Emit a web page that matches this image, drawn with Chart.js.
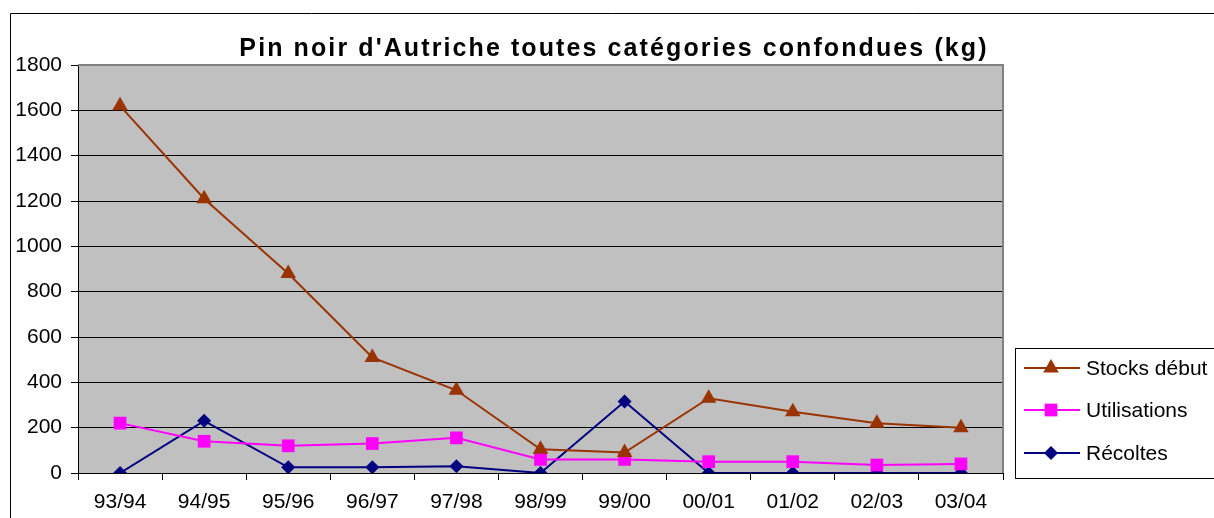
<!DOCTYPE html>
<html>
<head>
<meta charset="utf-8">
<script src="https://cdn.jsdelivr.net/npm/chart.js@4/dist/chart.umd.min.js"></script>
<style>
  html, body { margin: 0; padding: 0; background: #ffffff; }
  #wrap { width: 1214px; height: 518px; position: relative; }
</style>
</head>
<body>
<div id="wrap"><canvas id="c" width="1214" height="518"></canvas></div>
<script>
const titleText = "Pin noir d'Autriche toutes catégories confondues (kg)";
const categories = ["93/94", "94/95", "95/96", "96/97", "97/98", "98/99", "99/00", "00/01", "01/02", "02/03", "03/04"];
const stocksDebut = [1620, 1210, 880, 510, 365, 105, 90, 330, 270, 220, 200];
const utilisations = [220, 140, 120, 130, 155, 60, 60, 50, 50, 35, 40];
const recoltes = [0, 230, 25, 25, 30, 0, 315, 0, 0, 0, 0];
const yTicks = { min: 0, max: 1800, step: 200 };

const FONT = "'Liberation Sans', Arial, sans-serif";

function drawMarker(ctx, style, x, y, r, color) {
  ctx.save();
  ctx.fillStyle = color;
  ctx.beginPath();
  if (style === 'triangle') {
    ctx.moveTo(x, y - r);
    ctx.lineTo(x + r * 0.866, y + r * 0.5);
    ctx.lineTo(x - r * 0.866, y + r * 0.5);
  } else if (style === 'rect') {
    const s = r * Math.SQRT1_2;
    ctx.rect(x - s, y - s, 2 * s, 2 * s);
  } else {
    ctx.moveTo(x, y - r);
    ctx.lineTo(x + r, y);
    ctx.lineTo(x, y + r);
    ctx.lineTo(x - r, y);
  }
  ctx.closePath();
  ctx.fill();
  ctx.restore();
}

const decorPlugin = {
  id: 'decor',
  beforeDraw(chart) {
    const { ctx, chartArea: a } = chart;
    ctx.save();
    ctx.fillStyle = '#ffffff';
    ctx.fillRect(0, 0, chart.width, chart.height);
    ctx.fillStyle = '#c0c0c0';
    ctx.fillRect(a.left, a.top, a.right - a.left, a.bottom - a.top);
    ctx.restore();
  },
  beforeDatasetsDraw(chart) {
    const { ctx, chartArea: a } = chart;
    ctx.save();
    ctx.strokeStyle = '#808080';
    ctx.lineWidth = 2;
    ctx.beginPath();
    ctx.moveTo(a.left, a.top);
    ctx.lineTo(a.right, a.top);
    ctx.lineTo(a.right, a.bottom);
    ctx.stroke();
    ctx.restore();
  },
  afterDraw(chart) {
    const ctx = chart.ctx;
    ctx.save();
    // outer frame
    ctx.strokeStyle = '#000000';
    ctx.lineWidth = 1;
    ctx.beginPath();
    ctx.moveTo(10.5, 530);
    ctx.lineTo(10.5, 13.5);
    ctx.lineTo(1230, 13.5);
    ctx.stroke();
    // title
    ctx.fillStyle = '#000000';
    ctx.font = 'bold 25px ' + FONT;
    ctx.textAlign = 'center';
    ctx.textBaseline = 'alphabetic';
    try { ctx.letterSpacing = '2.1px'; } catch (e) {}
    ctx.fillText(titleText, 614, 56);
    try { ctx.letterSpacing = '0px'; } catch (e) {}
    // legend
    ctx.strokeStyle = '#000000';
    ctx.lineWidth = 1;
    ctx.strokeRect(1015.5, 348.5, 300, 130);
    const rows = [368, 410, 453];
    ctx.font = '21px ' + FONT;
    ctx.textAlign = 'left';
    ctx.textBaseline = 'middle';
    chart.data.datasets.forEach((ds, i) => {
      const y = rows[i];
      ctx.strokeStyle = ds.borderColor;
      ctx.lineWidth = 2;
      ctx.beginPath();
      ctx.moveTo(1024, y);
      ctx.lineTo(1080, y);
      ctx.stroke();
      drawMarker(ctx, ds.pointStyle, 1051, y, ds.pointRadius, ds.backgroundColor);
      ctx.fillStyle = '#000000';
      ctx.fillText(ds.label, 1086, y + 1);
    });
    ctx.restore();
  }
};

new Chart(document.getElementById('c'), {
  type: 'line',
  data: {
    labels: categories,
    datasets: [
      { label: 'Stocks début', data: stocksDebut, borderColor: '#993300', backgroundColor: '#993300',
        borderWidth: 2, pointStyle: 'triangle', pointRadius: 9, pointBorderWidth: 0, tension: 0 },
      { label: 'Utilisations', data: utilisations, borderColor: '#ff00ff', backgroundColor: '#ff00ff',
        borderWidth: 2, pointStyle: 'rect', pointRadius: 9, pointBorderWidth: 0, tension: 0 },
      { label: 'Récoltes', data: recoltes, borderColor: '#000080', backgroundColor: '#000080',
        borderWidth: 2, pointStyle: 'rectRot', pointRadius: 7, pointBorderWidth: 0, tension: 0 }
    ]
  },
  options: {
    responsive: false,
    animation: false,
    devicePixelRatio: 1,
    layout: { padding: { left: 0, right: 211, top: 65, bottom: 0 } },
    plugins: { legend: { display: false }, title: { display: false }, tooltip: { enabled: false } },
    elements: { line: { borderJoinStyle: 'miter' } },
    scales: {
      x: {
        type: 'category',
        offset: true,
        grid: { offset: true, drawOnChartArea: false, drawTicks: true, tickLength: 7, color: '#000000' },
        border: { display: true, color: '#000000', width: 1 },
        ticks: { color: '#000000', font: { family: FONT, size: 21 }, padding: 10, maxRotation: 0, autoSkip: false },
        afterFit(scale) { scale.height = 45; }
      },
      y: {
        min: yTicks.min,
        max: yTicks.max,
        grid: {
          color: (c) => (c.tick && c.tick.value === yTicks.max ? '#808080' : '#000000'),
          lineWidth: 1, drawTicks: true, tickLength: 7, tickColor: '#000000'
        },
        border: { display: true, color: '#000000', width: 1 },
        ticks: { stepSize: yTicks.step, color: '#000000', font: { family: FONT, size: 21 }, padding: 9,
          callback: (v) => String(v) },
        afterFit(scale) { scale.width = 78; }
      }
    }
  },
  plugins: [decorPlugin]
});
</script>
</body>
</html>
